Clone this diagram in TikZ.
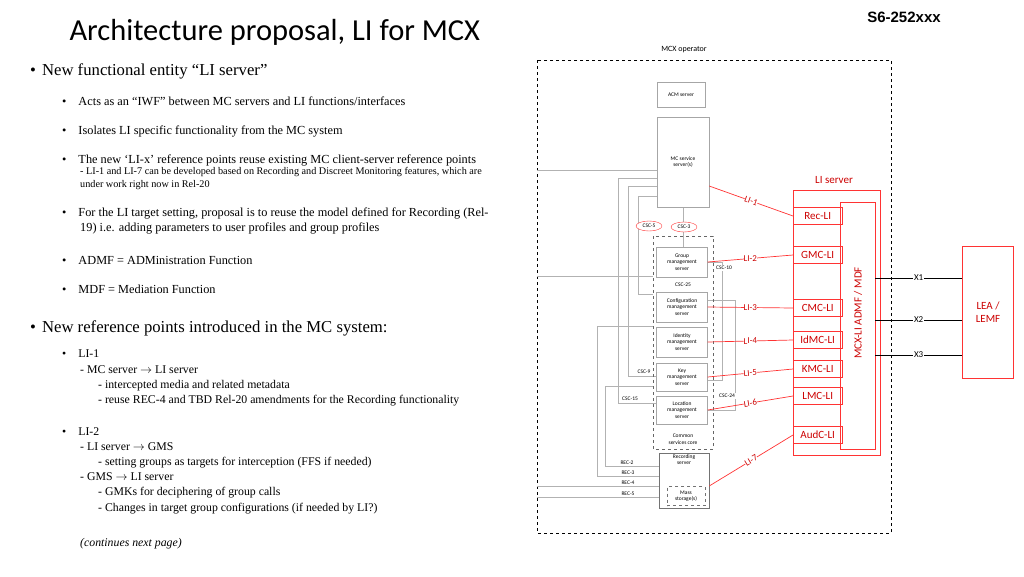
\documentclass[tikz,border=0pt]{standalone}
\usepackage{fontspec}
\setmainfont{Liberation Serif}
\newfontfamily\calfont{Carlito}
\newfontfamily\arlfont{Liberation Sans}
\usetikzlibrary{positioning,shapes.geometric}
\begin{document}
\begin{tikzpicture}[x=1pt,y=-1pt,
  box/.style={rectangle,draw=gray!70,inner sep=0pt,align=center,font=\calfont\fontsize{5.5}{6.5}\selectfont},
  libox/.style={rectangle,draw=red!80,inner sep=0pt,minimum width=49pt,minimum height=17pt,font=\calfont\fontsize{11}{12}\selectfont,text=red!80!black},
  tag/.style={font=\calfont\fontsize{5.5}{6.5}\selectfont,inner sep=1pt},
  lilab/.style={font=\calfont\fontsize{9}{10}\selectfont,text=red!80!black,fill=white,inner sep=0pt},
  gl/.style={draw=gray!60,line width=0.5pt},
  rl/.style={draw=red!80,line width=0.7pt},
  big/.style={anchor=west,font=\fontsize{16.7}{18}\selectfont,inner sep=0pt},
  sml/.style={anchor=west,font=\fontsize{12.3}{14}\selectfont,inner sep=0pt,align=left}]
\useasboundingbox (0,0) rectangle (1024,576);
% titles
\node [anchor=west,font=\calfont\fontsize{30.5}{32}\selectfont] (title) at (66,32) {Architecture proposal, LI for MCX};
\node [font=\arlfont\bfseries\fontsize{15}{16}\selectfont] (doc) at (904,17) {S6-252xxx};
% left text
\node [big] (b1) at (30,71) {\textbullet\hspace{6pt}New functional entity “LI server”};
\node [sml] (s1) at (62,101) {\textbullet\hspace{12pt}Acts as an “IWF” between MC servers and LI functions/interfaces};
\node [sml] (s2) at (62,131) {\textbullet\hspace{12pt}Isolates LI specific functionality from the MC system};
\node [sml] (s3) at (62,160) {\textbullet\hspace{12pt}The new ‘LI-x’ reference points reuse existing MC client-server reference points};
\node [sml,font=\fontsize{10.2}{13.5}\selectfont,anchor=north west] (s3b) at (80,167) {- LI-1 and LI-7 can be developed based on Recording and Discreet Monitoring features, which are\\under work right now in Rel-20};
\node [sml,anchor=north west,font=\fontsize{12.3}{14.5}\selectfont] (s4) at (62,208) {\textbullet\hspace{12pt}For the LI target setting, proposal is to reuse the model defined for Recording (Rel-\\\hspace{18pt}19) i.e. adding parameters to user profiles and group profiles};
\node [sml] (s5) at (62,260) {\textbullet\hspace{12pt}ADMF = ADMinistration Function};
\node [sml] (s6) at (62,289) {\textbullet\hspace{12pt}MDF = Mediation Function};
\node [big] (b2) at (30,328) {\textbullet\hspace{6pt}New reference points introduced in the MC system:};
\node [sml,anchor=north west,font=\fontsize{11.8}{15.3}\selectfont] (l1) at (62,350) {\textbullet\hspace{12pt}LI-1\\
\hspace{18pt}- MC server $\rightarrow$ LI server\\
\hspace{36pt}- intercepted media and related metadata\\
\hspace{36pt}- reuse REC-4 and TBD Rel-20 amendments for the Recording functionality};
\node [sml,anchor=north west,font=\fontsize{11.8}{15.2}\selectfont] (l2) at (62,427) {\textbullet\hspace{12pt}LI-2\\
\hspace{18pt}- LI server $\rightarrow$ GMS\\
\hspace{36pt}- setting groups as targets for interception (FFS if needed)\\
\hspace{18pt}- GMS $\rightarrow$ LI server\\
\hspace{36pt}- GMKs for deciphering of group calls\\
\hspace{36pt}- Changes in target group configurations (if needed by LI?)};
\node [sml,font=\itshape\fontsize{11.8}{13}\selectfont] (cont) at (80,544) {(continues next page)};
% operator domain
\draw [dashed,line width=0.8pt] (537,60) rectangle (891,533);
\node [tag,font=\calfont\fontsize{8}{9}\selectfont] (op) at (684,50) {MCX operator};
% gray wiring
\draw [gl] (537,170) -- (657,170);
\draw [gl] (657,178) -| (618,403) -- (657,403);
\draw [gl] (657,186) -| (628,376) -- (657,376);
\draw [gl] (657,196) -| (638,294) -- (653,294);
\draw [gl] (537,276) -- (653,276);
\draw [gl] (708,262) -| (722,380) -- (708,380);
\draw [gl] (708,300) -| (735,410) -- (708,410);
\draw [gl] (653,326) -| (597,476) -- (659,476);
\draw [gl] (653,386) -| (605,466) -- (659,466);
\draw [gl] (537,486) -- (659,486);
\draw [gl] (537,497) -- (659,497);
\draw [gl] (683,207) -- (683,247);
% MC boxes
\node [box,minimum width=48pt,minimum height=25pt] (ACM) at (681,95) {ACM server};
\node [box,minimum width=52pt,minimum height=90pt] (MCS) at (683,162) {MC service\\server(s)};
\draw [dashed,draw=gray!80!black] (653,236) rectangle (713,449);
\node [box,fill=white,minimum width=51pt,minimum height=30pt] (GMS) at (682,262) {Group\\management\\server};
\node [box,fill=white,minimum width=51pt,minimum height=30pt] (CMS) at (682,307) {Configuration\\management\\server};
\node [box,fill=white,minimum width=51pt,minimum height=30pt] (IdMS) at (682,342) {Identity\\management\\server};
\node [box,fill=white,minimum width=51pt,minimum height=28pt] (KMS) at (682,377) {Key\\management\\server};
\node [box,fill=white,minimum width=51pt,minimum height=28pt] (LMS) at (682,410) {Location\\management\\server};
\node [tag,align=center] (csc) at (683,439) {Common\\services core};
\node [box,draw=gray!90!black,fill=white,minimum width=50pt,minimum height=55pt] (RecS) at (684,481) {};
\node [tag,align=center,anchor=north] (rect) at (RecS.north) {Recording\\server};
\node [box,dashed,draw=gray!90!black,minimum width=38pt,minimum height=19pt] (Mass) at (686,496) {Mass\\storage(s)};
% reference point tags
\node [tag,ellipse,draw=red!80,inner sep=0pt,minimum width=26pt,minimum height=10pt,fill=white] (csc5) at (649,226) {CSC-5};
\node [tag,ellipse,draw=red!80,inner sep=0pt,minimum width=26pt,minimum height=10pt,fill=white] (csc3) at (684,227) {CSC-3};
\node [tag,fill=white] (csc10) at (724,268) {CSC-10};
\node [tag,fill=white] (csc25) at (683,285) {CSC-25};
\node [tag,fill=white] (csc9) at (644,372) {CSC-9};
\node [tag,fill=white] (csc15) at (630,399) {CSC-15};
\node [tag,fill=white] (csc24) at (727,396) {CSC-24};
\node [tag] (rec2) at (627,463) {REC-2};
\node [tag] (rec3) at (628,473) {REC-3};
\node [tag] (rec4) at (628,483) {REC-4};
\node [tag] (rec5) at (628,494) {REC-5};
% LI server
\node [font=\calfont\fontsize{11}{12}\selectfont,text=red!80!black] (lis) at (834,180) {LI server};
\draw [rl] (793,190) rectangle (880,455);
\draw [rl] (840,202) rectangle (875,449);
\node [rotate=90,font=\calfont\fontsize{11}{12}\selectfont,text=red!80!black] (admf) at (858,313) {MCX-LI ADMF / MDF};
\node [libox,anchor=west] (RecLI) at (793,216) {Rec-LI};
\node [libox,anchor=west] (GMCLI) at (793,255) {GMC-LI};
\node [libox,anchor=west] (CMCLI) at (793,308) {CMC-LI};
\node [libox,anchor=west] (IdMCLI) at (793,340) {IdMC-LI};
\node [libox,anchor=west] (KMCLI) at (793,369) {KMC-LI};
\node [libox,anchor=west] (LMCLI) at (793,396) {LMC-LI};
\node [libox,anchor=west] (AudCLI) at (793,435) {AudC-LI};
\draw [rl] (MCS.east |- 0,186) -- node [lilab,sloped] {LI-1} (RecLI.west);
\draw [rl] (GMS.east) -- node [lilab] {LI-2} (GMCLI.west);
\draw [rl] (CMS.east) -- node [lilab] {LI-3} (CMCLI.west);
\draw [rl] (IdMS.east) -- node [lilab,sloped] {LI-4} (IdMCLI.west);
\draw [rl] (KMS.east) -- node [lilab,sloped] {LI-5} (KMCLI.west);
\draw [rl] (LMS.east) -- node [lilab,sloped] {LI-6} (LMCLI.west);
\draw [rl] (RecS.east |- 0,486) -- node [lilab,sloped] {LI-7} (AudCLI.west);
% LEA
\node [rectangle,draw=red!80,minimum width=51pt,minimum height=132pt,align=center,font=\calfont\fontsize{11}{13}\selectfont,text=red!80!black] (LEA) at (988,312) {LEA /\\LEMF};
\draw (875,278) -- node [fill=white,inner sep=1pt,font=\calfont\fontsize{9}{10}\selectfont] {X1} (LEA.west |- 0,278);
\draw (875,320) -- node [fill=white,inner sep=1pt,font=\calfont\fontsize{9}{10}\selectfont] {X2} (LEA.west |- 0,320);
\draw (875,355) -- node [fill=white,inner sep=1pt,font=\calfont\fontsize{9}{10}\selectfont] {X3} (LEA.west |- 0,355);
\end{tikzpicture}
\end{document}
